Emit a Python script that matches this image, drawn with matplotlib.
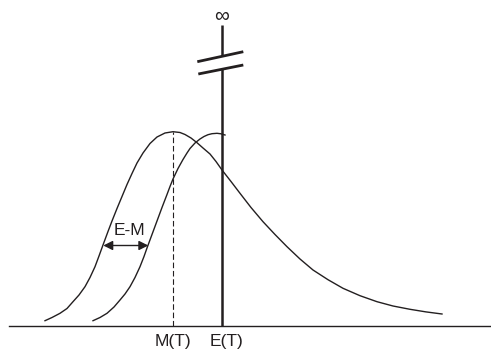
import matplotlib
matplotlib.use("Agg")
import matplotlib.pyplot as plt

plt.rcParams['font.family'] = ['Liberation Sans', 'DejaVu Sans']

# curve 1 (distribution around M(T)), heights above the baseline
x1 = [45, 52, 60, 67, 73, 79, 85, 90, 95, 99, 103, 108, 112, 117, 122, 127, 132, 137,
      143, 150, 157, 165, 173, 180, 185, 191, 197, 203, 210, 216, 222, 231, 240, 251,
      263, 275, 287, 300, 313, 328, 343, 360, 377, 393, 410, 426, 442]
y1 = [4.8, 8, 12.2, 17, 23.8, 30.5, 38.8, 48, 58.8, 69.5, 80.5, 94, 104.5, 117, 129,
      141, 152, 162.5, 172.5, 182, 188.5, 192.5, 193.8, 193, 191, 187.5, 182.8,
      177.5, 171.5, 164, 155.5, 144, 132.2, 118, 103.8, 91, 78.8, 66.5, 55.5, 45.8,
      37.2, 29.8, 23.8, 19.5, 16.2, 13.6, 11.5]

# curve 2 (shifted, cut at E(T))
x2 = [93, 100, 107, 114, 120, 125, 130, 135, 140, 144, 147, 152, 157, 162, 167, 170,
      173, 178, 183, 187, 190, 195, 200, 204, 208, 212, 217, 221, 225]
y2 = [4.8, 8, 12.2, 18.5, 25.5, 31.5, 38.8, 48, 58.8, 69, 77.5, 91, 104.5, 118, 131,
      139, 146.5, 157, 166, 172.5, 177, 182.5, 186.5, 189, 190.8, 191.8, 192.2,
      191.7, 190.5]

x_m = 173
x_e = 222
em_left, em_right = 103.3, 148.3

fig = plt.figure(figsize=(4.91, 3.5), dpi=100)
ax = fig.add_axes([0, 0, 1, 1])
ax.set_xlim(0, 491)
ax.set_ylim(-24.5, 325.5)
ax.axis('off')

# baseline
ax.plot([9, 490], [0, 0], color='#231f20', lw=1.0)

ax.plot(x1, y1, color='#231f20', lw=1.0)
ax.plot(x2, y2, color='#231f20', lw=1.0)

# dashed line at the peak
ax.plot([x_m, x_m], [0, max(y1)], color='#231f20', lw=0.8, dashes=(5, 2.5))

# thick line at E(T) with a break
ax.plot([x_e, x_e], [0, 256.2], color='#231f20', lw=1.8, solid_capstyle='butt')
ax.plot([x_e, x_e], [269.2, 300.5], color='#231f20', lw=1.8, solid_capstyle='butt')
ax.plot([197.3, 243.3], [263.8, 273.8], color='#231f20', lw=2.0, solid_capstyle='butt')
ax.plot([198.3, 243.3], [251.5, 260.5], color='#231f20', lw=2.0, solid_capstyle='butt')
ax.text(x_e, 309.5, '∞', ha='center', va='center', fontsize=15, color='#231f20')

# E-M arrow
ax.annotate('', xy=(em_left, 80), xytext=(em_right, 80),
            arrowprops=dict(arrowstyle='<|-|>', color='#231f20', lw=1.0,
                            mutation_scale=14, shrinkA=0, shrinkB=0))
ax.text(129, 94.8, 'E-M', ha='center', va='center', fontsize=12.5, color='#231f20')

ax.text(x_m, -16.2, 'M(T)', ha='center', va='center', fontsize=12.5, color='#231f20')
ax.text(226.5, -16.2, 'E(T)', ha='center', va='center', fontsize=12.5, color='#231f20')

fig.savefig('out.png', dpi=100)
